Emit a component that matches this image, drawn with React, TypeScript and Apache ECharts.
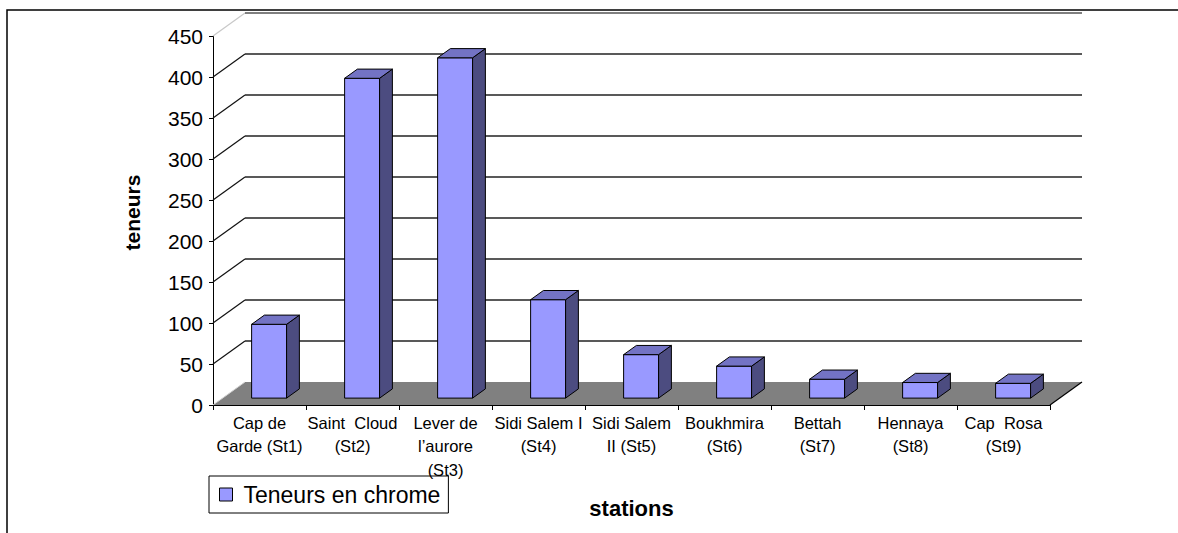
import React, { useEffect, useRef } from "react";
import * as echarts from "echarts";

// Stations along the coast (tick labels, wrapped as printed)
const categories = [
  "Cap de\nGarde (St1)",
  "Saint  Cloud\n(St2)",
  "Lever de\nl’aurore\n(St3)",
  "Sidi Salem I\n(St4)",
  "Sidi Salem\nII (St5)",
  "Boukhmira\n(St6)",
  "Bettah\n(St7)",
  "Hennaya\n(St8)",
  "Cap  Rosa\n(St9)",
];

// Chromium content per station
const chromeValues = [90, 390, 415, 120, 53, 39, 23, 19, 18];

// Value-axis ticks
const yTicks = [0, 50, 100, 150, 200, 250, 300, 350, 400, 450];

const seriesName = "Teneurs en chrome";

// Depth offset of the back wall (pseudo 3D projection)
const DX = 32;
const DY = -23;
const FONT = "'Liberation Sans', Arial, sans-serif";

export default function App() {
  const ref = useRef<HTMLDivElement>(null);

  useEffect(() => {
    if (!ref.current) return;
    const chart = echarts.init(ref.current, null, { renderer: "svg" });

    const wallRender = (params: any, api: any) => {
      const v = api.value(1);
      const cs = params.coordSys;
      const left = cs.x;
      const right = cs.x + cs.width;
      const y = api.coord([0, v])[1];
      if (v === 0) {
        return {
          type: "group",
          children: [
            {
              type: "polygon",
              shape: {
                points: [
                  [left, y],
                  [left + DX, y + DY],
                  [right + DX, y + DY],
                  [right, y],
                ],
              },
              style: { fill: "#808080", stroke: "none" },
            },
            {
              type: "line",
              shape: { x1: left, y1: y, x2: left + DX, y2: y + DY },
              style: { stroke: "#d0d0d0", lineWidth: 1 },
            },
            {
              type: "line",
              shape: { x1: right, y1: y, x2: right + DX, y2: y + DY },
              style: { stroke: "#000", lineWidth: 1.2 },
            },
          ],
        };
      }
      const isTop = v === yTicks[yTicks.length - 1];
      return {
        type: "group",
        children: [
          {
            type: "line",
            shape: { x1: left, y1: y, x2: left + DX, y2: y + DY },
            style: { stroke: isTop ? "#c8c8c8" : "#111", lineWidth: 1.2 },
          },
          {
            type: "line",
            shape: { x1: left + DX, y1: y + DY, x2: right + DX, y2: y + DY },
            style: { stroke: isTop ? "#555" : "#222", lineWidth: 1.3 },
          },
        ],
      };
    };

    const barRender = (_params: any, api: any) => {
      const i = api.value(0);
      const v = api.value(1);
      const base = api.coord([i, 0]);
      const top = api.coord([i, v]);
      const band = api.size([1, 0])[0];
      const w = band * 0.376;
      const f0 = 0.3;
      const f1 = 0.7;
      const x0 = base[0] + DX * f0 - w / 2;
      const x1 = x0 + w;
      const yb = base[1] + DY * f0;
      const yt = top[1] + DY * f0;
      const ddx = DX * (f1 - f0);
      const ddy = DY * (f1 - f0);
      const stroke = { stroke: "#000", lineWidth: 1, lineJoin: "round" };
      return {
        type: "group",
        children: [
          {
            type: "rect",
            shape: { x: x0, y: yt, width: w, height: yb - yt },
            style: { fill: "#9999FF", ...stroke },
          },
          {
            type: "polygon",
            shape: {
              points: [
                [x1, yb],
                [x1, yt],
                [x1 + ddx, yt + ddy],
                [x1 + ddx, yb + ddy],
              ],
            },
            style: { fill: "#4C4C80", ...stroke },
          },
          {
            type: "polygon",
            shape: {
              points: [
                [x0, yt],
                [x1, yt],
                [x1 + ddx, yt + ddy],
                [x0 + ddx, yt + ddy],
              ],
            },
            style: { fill: "#7373C4", ...stroke },
          },
        ],
      };
    };

    chart.setOption({
      animation: false,
      backgroundColor: "#fff",
      textStyle: { fontFamily: FONT, color: "#000" },
      grid: { left: 213, top: 36, width: 837, height: 369 },
      legend: {
        left: 209,
        top: 476,
        selectedMode: false,
        orient: "horizontal",
        borderColor: "#000",
        borderWidth: 1,
        borderRadius: 0,
        padding: [7, 8, 7, 10],
        itemWidth: 13,
        itemHeight: 13,
        textStyle: { fontSize: 23, color: "#000", fontFamily: FONT, padding: [0, 0, 0, 6] },
        data: [
          {
            name: seriesName,
            icon: "rect",
            itemStyle: { color: "#9999FF", borderColor: "#000", borderWidth: 1 },
          },
        ],
      },
      xAxis: {
        type: "category",
        data: categories,
        boundaryGap: true,
        name: "stations",
        nameLocation: "middle",
        nameGap: 92,
        nameTextStyle: { fontSize: 22, fontWeight: "bold", color: "#000", fontFamily: FONT },
        axisLine: { show: true, lineStyle: { color: "#000", width: 1 } },
        axisTick: { show: true, length: 5, lineStyle: { color: "#000" } },
        axisLabel: {
          interval: 0,
          margin: 6,
          fontSize: 16.5,
          lineHeight: 23.5,
          color: "#000",
          fontFamily: FONT,
        },
        splitLine: { show: false },
      },
      yAxis: {
        type: "value",
        min: 0,
        max: 450,
        interval: 50,
        name: "teneurs",
        nameLocation: "middle",
        nameRotate: 90,
        nameGap: 70,
        nameTextStyle: {
          fontSize: 21,
          fontWeight: "bold",
          color: "#000",
          fontFamily: FONT,
          padding: [0, 0, 0, 16],
        },
        axisLine: { show: true, lineStyle: { color: "#000", width: 1 } },
        axisTick: { show: true, length: 4, lineStyle: { color: "#000" } },
        axisLabel: { margin: 10, fontSize: 21, color: "#000", fontFamily: FONT },
        splitLine: { show: false },
      },
      graphic: [
        {
          type: "rect",
          shape: { x: 7, y: 10, width: 1200, height: 600 },
          style: { fill: "none", stroke: "#000", lineWidth: 1.5 },
          silent: true,
        },
      ],
      series: [
        {
          type: "custom",
          name: "wall",
          clip: false,
          z: 1,
          silent: true,
          renderItem: wallRender,
          data: yTicks.map((t) => [0, t]),
        },
        {
          type: "custom",
          name: seriesName,
          clip: false,
          z: 3,
          itemStyle: { color: "#9999FF" },
          renderItem: barRender,
          data: chromeValues.map((v, i) => [i, v]),
        },
      ],
    });

    return () => chart.dispose();
  }, []);

  return (
    <div
      ref={ref}
      style={{ position: "fixed", left: 0, top: 0, width: 1178, height: 533 }}
    />
  );
}
